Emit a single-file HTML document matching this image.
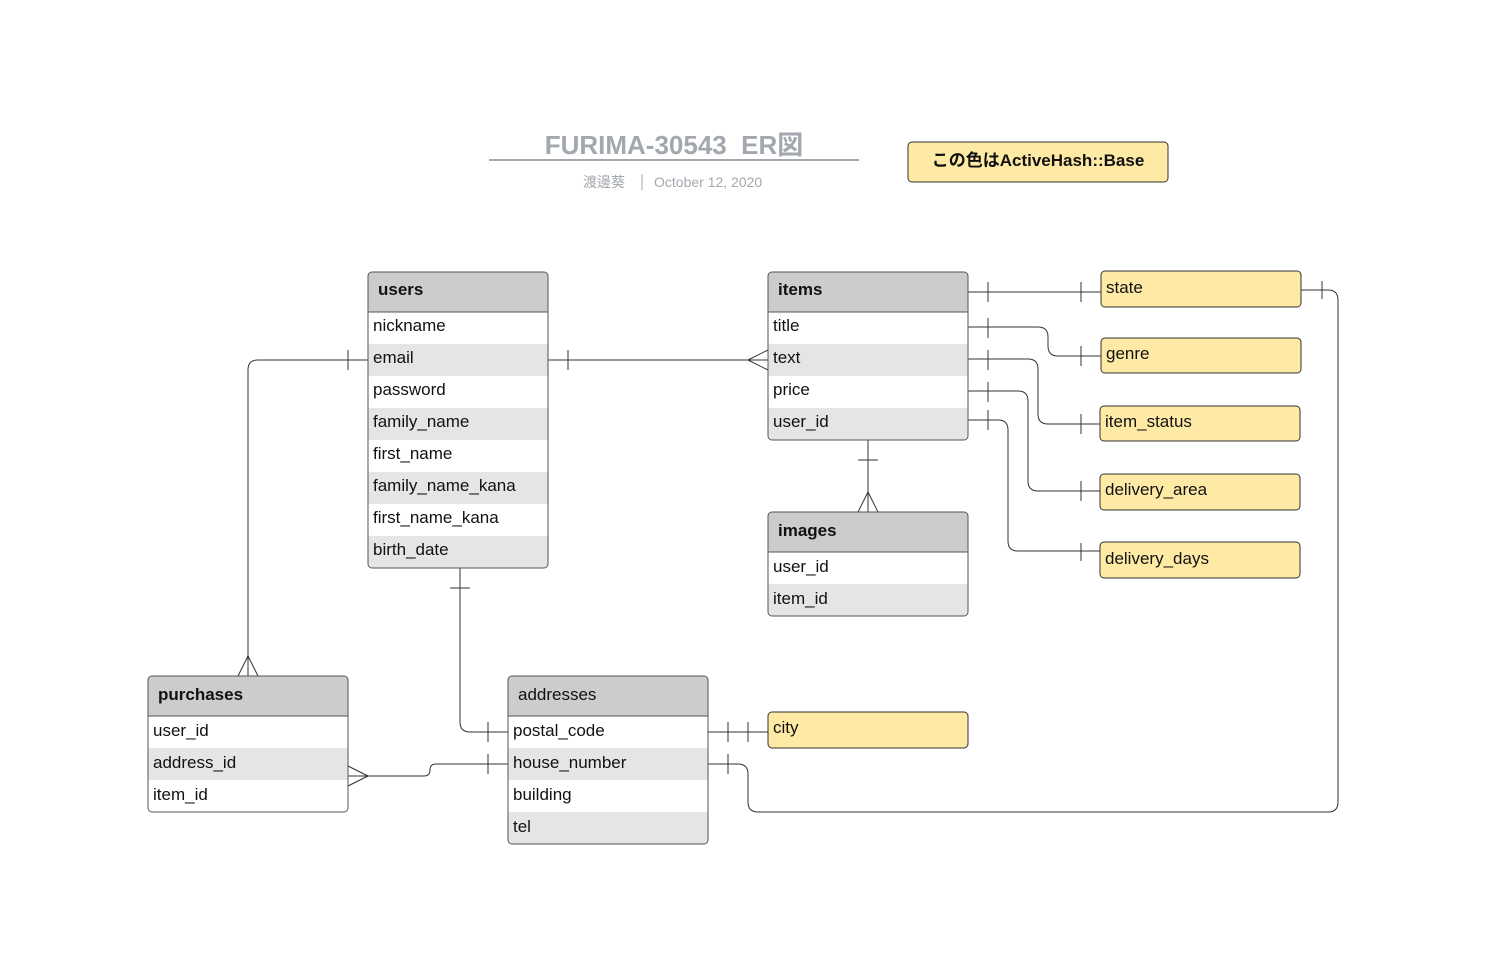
<!DOCTYPE html>
<html><head><meta charset="utf-8"><style>
html,body{margin:0;padding:0;background:#fff}
svg text{font-family:"Liberation Sans","Noto Sans CJK JP",sans-serif}
</style></head><body>
<svg width="1485" height="968" viewBox="0 0 1485 968" xmlns="http://www.w3.org/2000/svg">
<text x="674" y="154" text-anchor="middle" font-size="26" font-weight="bold" fill="#a3a7ae">FURIMA-30543&#160; ER図</text>
<line x1="489" y1="160" x2="859" y2="160" stroke="#a3a7ae" stroke-width="2"/>
<text x="604" y="187" text-anchor="middle" font-size="14" fill="#a3a7ae">渡邊葵</text>
<line x1="642" y1="174" x2="642" y2="190" stroke="#a3a7ae"/>
<text x="654" y="187" font-size="14" fill="#a3a7ae">October 12, 2020</text>
<rect x="908" y="142" width="260" height="40" rx="4" fill="#ffeaa5" stroke="#333"/>
<text x="1038" y="166" text-anchor="middle" font-size="17" font-weight="bold" fill="#111">この色はActiveHash::Base</text>

<g fill="none" stroke="#333" stroke-width="1">
<path d="M368 360 H258 Q248 360 248 370 V676"/>
<line x1="348" y1="350" x2="348" y2="370"/>
<path d="M248 656 L238 676 M248 656 L258 676"/>
<path d="M548 360 H768"/>
<line x1="568" y1="350" x2="568" y2="370"/>
<path d="M748 360 L768 350 M748 360 L768 370"/>
<path d="M868 440 V512"/>
<line x1="858" y1="460" x2="878" y2="460"/>
<path d="M868 492 L858 512 M868 492 L878 512"/>
<path d="M460 568 V722 Q460 732 470 732 H508"/>
<line x1="450" y1="588" x2="470" y2="588"/>
<line x1="488" y1="722" x2="488" y2="742"/>
<path d="M348 776 H424 Q430 776 430 770 Q430 764 436 764 H508"/>
<path d="M368 776 L348 766 M368 776 L348 786"/>
<line x1="488" y1="754" x2="488" y2="774"/>
<path d="M708 732 H768"/>
<line x1="728" y1="722" x2="728" y2="742"/>
<line x1="748" y1="722" x2="748" y2="742"/>
<path d="M708 764 H738 Q748 764 748 774 V802 Q748 812 758 812 H1328 Q1338 812 1338 802 V300 Q1338 290 1328 290 H1301"/>
<line x1="728" y1="754" x2="728" y2="774"/>
<line x1="1322" y1="281" x2="1322" y2="299"/>
<path d="M968 292 H1101"/>
<line x1="988" y1="282" x2="988" y2="302"/><line x1="1081" y1="282" x2="1081" y2="302"/>
<path d="M968 327 H1038 Q1048 327 1048 337 V346 Q1048 356 1058 356 H1101"/>
<line x1="988" y1="318" x2="988" y2="338"/><line x1="1081" y1="346" x2="1081" y2="366"/>
<path d="M968 359 H1028 Q1038 359 1038 369 V414 Q1038 424 1048 424 H1100"/>
<line x1="988" y1="350" x2="988" y2="370"/><line x1="1081" y1="414" x2="1081" y2="434"/>
<path d="M968 391 H1018 Q1028 391 1028 401 V481 Q1028 491 1038 491 H1100"/>
<line x1="988" y1="382" x2="988" y2="402"/><line x1="1081" y1="481" x2="1081" y2="501"/>
<path d="M968 420 H998 Q1008 420 1008 430 V541 Q1008 551 1018 551 H1100"/>
<line x1="988" y1="410" x2="988" y2="430"/><line x1="1081" y1="543" x2="1081" y2="561"/>
</g>

<g stroke="#333" fill="#ffeaa5" font-size="17">
<rect x="1101" y="271" width="200" height="36" rx="4"/>
<rect x="1101" y="338" width="200" height="35" rx="4"/>
<rect x="1100" y="406" width="200" height="35" rx="4"/>
<rect x="1100" y="474" width="200" height="36" rx="4"/>
<rect x="1100" y="542" width="200" height="36" rx="4"/>
<rect x="768" y="712" width="200" height="36" rx="4"/>
</g>
<g font-size="17" fill="#111">
<text x="1106" y="293">state</text>
<text x="1106" y="359">genre</text>
<text x="1105" y="427">item_status</text>
<text x="1105" y="495">delivery_area</text>
<text x="1105" y="564">delivery_days</text>
<text x="773" y="733">city</text>
</g>

<defs><clipPath id="cu"><rect x="368" y="272" width="180" height="296" rx="4"/></clipPath>
<clipPath id="ci"><rect x="768" y="272" width="200" height="168" rx="4"/></clipPath>
<clipPath id="cm"><rect x="768" y="512" width="200" height="104" rx="4"/></clipPath>
<clipPath id="cp"><rect x="148" y="676" width="200" height="136" rx="4"/></clipPath>
<clipPath id="ca"><rect x="508" y="676" width="200" height="168" rx="4"/></clipPath></defs>

<g clip-path="url(#cu)">
<rect x="368" y="272" width="180" height="296" fill="#fff"/>
<rect x="368" y="272" width="180" height="40" fill="#cccccc"/>
<rect x="368" y="344" width="180" height="32" fill="#e5e5e5"/>
<rect x="368" y="408" width="180" height="32" fill="#e5e5e5"/>
<rect x="368" y="472" width="180" height="32" fill="#e5e5e5"/>
<rect x="368" y="536" width="180" height="32" fill="#e5e5e5"/>
</g>
<rect x="368" y="272" width="180" height="296" rx="4" fill="none" stroke="#555"/>
<line x1="368" y1="312" x2="548" y2="312" stroke="#555"/>
<g clip-path="url(#ci)">
<rect x="768" y="272" width="200" height="168" fill="#fff"/>
<rect x="768" y="272" width="200" height="40" fill="#cccccc"/>
<rect x="768" y="344" width="200" height="32" fill="#e5e5e5"/>
<rect x="768" y="408" width="200" height="32" fill="#e5e5e5"/>
</g>
<rect x="768" y="272" width="200" height="168" rx="4" fill="none" stroke="#555"/>
<line x1="768" y1="312" x2="968" y2="312" stroke="#555"/>
<g clip-path="url(#cm)">
<rect x="768" y="512" width="200" height="104" fill="#fff"/>
<rect x="768" y="512" width="200" height="40" fill="#cccccc"/>
<rect x="768" y="584" width="200" height="32" fill="#e5e5e5"/>
</g>
<rect x="768" y="512" width="200" height="104" rx="4" fill="none" stroke="#555"/>
<line x1="768" y1="552" x2="968" y2="552" stroke="#555"/>
<g clip-path="url(#cp)">
<rect x="148" y="676" width="200" height="136" fill="#fff"/>
<rect x="148" y="676" width="200" height="40" fill="#cccccc"/>
<rect x="148" y="748" width="200" height="32" fill="#e5e5e5"/>
</g>
<rect x="148" y="676" width="200" height="136" rx="4" fill="none" stroke="#555"/>
<line x1="148" y1="716" x2="348" y2="716" stroke="#555"/>
<g clip-path="url(#ca)">
<rect x="508" y="676" width="200" height="168" fill="#fff"/>
<rect x="508" y="676" width="200" height="40" fill="#cccccc"/>
<rect x="508" y="748" width="200" height="32" fill="#e5e5e5"/>
<rect x="508" y="812" width="200" height="32" fill="#e5e5e5"/>
</g>
<rect x="508" y="676" width="200" height="168" rx="4" fill="none" stroke="#555"/>
<line x1="508" y1="716" x2="708" y2="716" stroke="#555"/>

<g font-size="17" fill="#111">
<text x="378" y="295" font-weight="bold">users</text>
<text x="373" y="331">nickname</text>
<text x="373" y="363">email</text>
<text x="373" y="395">password</text>
<text x="373" y="427">family_name</text>
<text x="373" y="459">first_name</text>
<text x="373" y="491">family_name_kana</text>
<text x="373" y="523">first_name_kana</text>
<text x="373" y="555">birth_date</text>

<text x="778" y="295" font-weight="bold">items</text>
<text x="773" y="331">title</text>
<text x="773" y="363">text</text>
<text x="773" y="395">price</text>
<text x="773" y="427">user_id</text>

<text x="778" y="536" font-weight="bold">images</text>
<text x="773" y="572">user_id</text>
<text x="773" y="604">item_id</text>

<text x="158" y="700" font-weight="bold">purchases</text>
<text x="153" y="736">user_id</text>
<text x="153" y="768">address_id</text>
<text x="153" y="800">item_id</text>

<text x="518" y="700">addresses</text>
<text x="513" y="736">postal_code</text>
<text x="513" y="768">house_number</text>
<text x="513" y="800">building</text>
<text x="513" y="832">tel</text>
</g>
</svg>
</body></html>
